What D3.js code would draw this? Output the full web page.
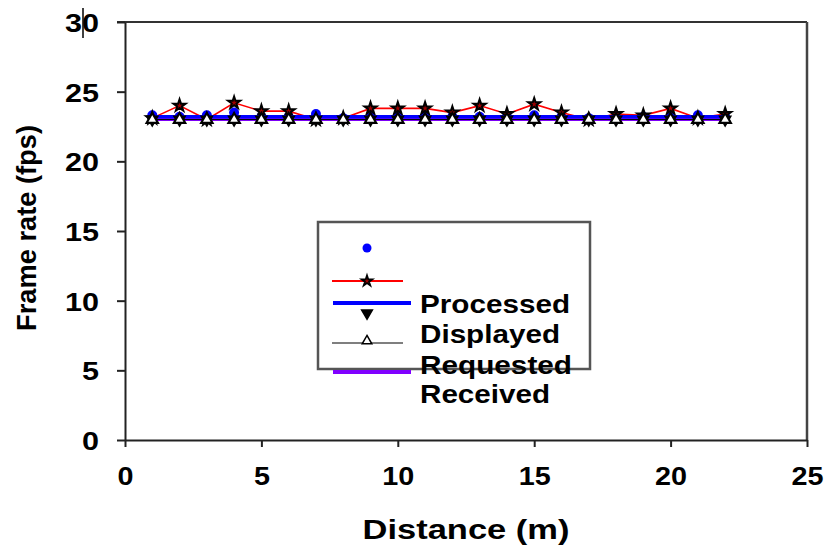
<!DOCTYPE html>
<html>
<head>
<meta charset="utf-8">
<script src="https://cdn.jsdelivr.net/npm/d3@7"></script>
<style>
  body { margin: 0; background: #fff; }
  text { font-family: "Liberation Sans", Arial, sans-serif; font-weight: bold; fill: #000; }
</style>
</head>
<body>
<div id="chart"></div>
<script>
// distance values (m)
var distance = [1, 2, 3, 4, 5, 6, 7, 8, 9, 10, 11, 12, 13, 14, 15, 16, 17, 18, 19, 20, 21, 22];
// frame rate series (fps)
var dots = [23.3, 23.2, 23.3, 23.5, 23.2, 23.2, 23.4, 23.1, 23.2, 23.2, 23.2, 23.2, 23.2, 23.2, 23.3, 23.2, 23.1, 23.2, 23.2, 23.2, 23.3, 23.2];
var stars = [23.1, 24.0, 23.0, 24.2, 23.6, 23.6, 23.0, 23.1, 23.8, 23.8, 23.8, 23.5, 24.0, 23.4, 24.1, 23.5, 23.0, 23.4, 23.3, 23.8, 23.1, 23.4];
var processed = [23.2, 23.2, 23.2, 23.2, 23.2, 23.2, 23.2, 23.2, 23.2, 23.2, 23.2, 23.2, 23.2, 23.2, 23.2, 23.2, 23.2, 23.2, 23.2, 23.2, 23.2, 23.2];
var downTri = [23.0, 23.0, 23.0, 23.0, 23.0, 23.0, 23.0, 23.0, 23.0, 23.0, 23.0, 23.0, 23.0, 23.0, 23.0, 23.0, 23.0, 23.0, 23.0, 23.0, 23.0, 23.0];
var displayed = [23.0, 23.0, 23.0, 23.0, 23.0, 23.0, 23.0, 23.0, 23.0, 23.0, 23.0, 23.0, 23.0, 23.0, 23.0, 23.0, 23.0, 23.0, 23.0, 23.0, 23.0, 23.0];
var requested = [23.0, 23.0, 23.0, 23.0, 23.0, 23.0, 23.0, 23.0, 23.0, 23.0, 23.0, 23.0, 23.0, 23.0, 23.0, 23.0, 23.0, 23.0, 23.0, 23.0, 23.0, 23.0];
var xTicks = [0, 5, 10, 15, 20, 25];
var yTicks = [0, 5, 10, 15, 20, 25, 30];
var legendLabels = ["Processed", "Displayed", "Requested", "Received"];

var W = 829, H = 548;
var margin = {top: 22, right: 22, bottom: 108, left: 125};
var width = W - margin.left - margin.right,
    height = H - margin.top - margin.bottom;

var svg = d3.select("#chart").append("svg")
  .attr("width", W)
  .attr("height", H);

var g = svg.append("g")
  .attr("transform", "translate(" + margin.left + "," + margin.top + ")");

var x = d3.scaleLinear().domain([0, 25]).range([0, width]);
var y = d3.scaleLinear().domain([0, 30]).range([height, 0]);

// frame: top and right borders
g.append("line").attr("x1", -8).attr("x2", width).attr("y1", 0).attr("y2", 0)
  .attr("stroke", "#333").attr("stroke-width", 2);
g.append("line").attr("x1", width).attr("x2", width).attr("y1", 0).attr("y2", height)
  .attr("stroke", "#444").attr("stroke-width", 2.5);

// axes
var xAxis = g.append("g")
  .attr("transform", "translate(0," + height + ")")
  .call(d3.axisBottom(x).tickValues(xTicks).tickSize(7).tickSizeOuter(0));
xAxis.selectAll("text")
  .attr("y", 45).attr("dy", 0)
  .style("font-size", "26px")
  .attr("textLength", function(d) { return String(d).length * 16; })
  .attr("lengthAdjust", "spacingAndGlyphs");

var yAxis = g.append("g")
  .call(d3.axisLeft(y).tickValues(yTicks).tickSize(8).tickSizeOuter(0));
yAxis.selectAll("text")
  .attr("x", -26).attr("dy", "0.36em")
  .style("font-size", "26px")
  .attr("textLength", function(d) { return String(d).length * 17; })
  .attr("lengthAdjust", "spacingAndGlyphs");

svg.selectAll(".domain, .tick line").attr("stroke", "#222").attr("stroke-width", 2);

// stray mark through the "30" label
svg.append("line").attr("x1", 83).attr("x2", 83).attr("y1", 8).attr("y2", 38)
  .attr("stroke", "#000").attr("stroke-width", 1.5);

// axis titles
svg.append("text")
  .attr("x", 466).attr("y", 539)
  .attr("text-anchor", "middle")
  .style("font-size", "28px")
  .attr("textLength", 207).attr("lengthAdjust", "spacingAndGlyphs")
  .text("Distance (m)");

svg.append("text")
  .attr("transform", "translate(36,228) rotate(-90)")
  .attr("text-anchor", "middle")
  .style("font-size", "28px")
  .attr("textLength", 206).attr("lengthAdjust", "spacingAndGlyphs")
  .text("Frame rate (fps)");

function series(arr) {
  return distance.map(function(d, i) { return {x: d, y: arr[i]}; });
}
var line = d3.line()
  .x(function(d) { return x(d.x); })
  .y(function(d) { return y(d.y); });

var star = d3.symbol().type(d3.symbolStar).size(45);
var tri = d3.symbol().type(d3.symbolTriangle).size(55);

// blue dots
g.selectAll(".dot").data(series(dots)).enter().append("circle")
  .attr("cx", function(d) { return x(d.x); })
  .attr("cy", function(d) { return y(d.y); })
  .attr("r", 5).attr("fill", "#0000ff");

// red line with stars
g.append("path").datum(series(stars))
  .attr("d", line).attr("fill", "none").attr("stroke", "#ff0000").attr("stroke-width", 1.6);
g.selectAll(".star").data(series(stars)).enter().append("path")
  .attr("d", star)
  .attr("transform", function(d) { return "translate(" + x(d.x) + "," + y(d.y) + ")"; })
  .attr("fill", "#a00000").attr("stroke", "#000").attr("stroke-width", 2);

// processed (blue) and requested (purple) lines
g.append("path").datum(series(requested))
  .attr("d", line).attr("fill", "none").attr("stroke", "#8000ff").attr("stroke-width", 3);
g.append("path").datum(series(processed))
  .attr("d", line).attr("fill", "none").attr("stroke", "#0000ff").attr("stroke-width", 3.5);

// black down triangles
g.selectAll(".down").data(series(downTri)).enter().append("path")
  .attr("d", tri)
  .attr("transform", function(d) { return "translate(" + x(d.x) + "," + y(d.y) + ") rotate(180)"; })
  .attr("fill", "#000").attr("stroke", "#000").attr("stroke-width", 1.5);

// displayed: black line with white triangles
g.append("path").datum(series(displayed))
  .attr("d", line).attr("fill", "none").attr("stroke", "#000").attr("stroke-width", 1);
g.selectAll(".up").data(series(displayed)).enter().append("path")
  .attr("d", tri)
  .attr("transform", function(d) { return "translate(" + x(d.x) + "," + y(d.y) + ")"; })
  .attr("fill", "#fff").attr("stroke", "#000").attr("stroke-width", 2.2);

// legend
var lg = svg.append("g");
lg.append("rect")
  .attr("x", 318).attr("y", 222).attr("width", 272).attr("height", 147)
  .attr("fill", "#fff").attr("stroke", "#555").attr("stroke-width", 2.5);

lg.append("circle").attr("cx", 367).attr("cy", 248).attr("r", 4.5).attr("fill", "#0000ff");

lg.append("line").attr("x1", 332).attr("x2", 403).attr("y1", 281).attr("y2", 281)
  .attr("stroke", "#ff0000").attr("stroke-width", 1.8);
lg.append("path").attr("d", d3.symbol().type(d3.symbolStar).size(35)).attr("transform", "translate(367,281)")
  .attr("fill", "#a00000").attr("stroke", "#000").attr("stroke-width", 1.8);

lg.append("line").attr("x1", 333).attr("x2", 411).attr("y1", 303).attr("y2", 303)
  .attr("stroke", "#0000ff").attr("stroke-width", 4);

lg.append("path").attr("d", d3.symbol().type(d3.symbolTriangle).size(50)).attr("transform", "translate(367,313) rotate(180)")
  .attr("fill", "#000").attr("stroke", "#000").attr("stroke-width", 1.5);

lg.append("line").attr("x1", 332).attr("x2", 403).attr("y1", 343).attr("y2", 343)
  .attr("stroke", "#000").attr("stroke-width", 1.2);
lg.append("path").attr("d", d3.symbol().type(d3.symbolTriangle).size(40)).attr("transform", "translate(367,341)")
  .attr("fill", "#fff").attr("stroke", "#000").attr("stroke-width", 1.5);

var labelY = [313, 343, 374, 403];
var labelW = [150, 140, 152, 130];
lg.selectAll(".lbl").data(legendLabels).enter().append("text")
  .attr("x", 420)
  .attr("y", function(d, i) { return labelY[i]; })
  .style("font-size", "26px")
  .attr("textLength", function(d, i) { return labelW[i]; })
  .attr("lengthAdjust", "spacingAndGlyphs")
  .text(function(d) { return d; });

lg.append("line").attr("x1", 333).attr("x2", 411).attr("y1", 372).attr("y2", 372)
  .attr("stroke", "#8000ff").attr("stroke-width", 4);
</script>
</body>
</html>
